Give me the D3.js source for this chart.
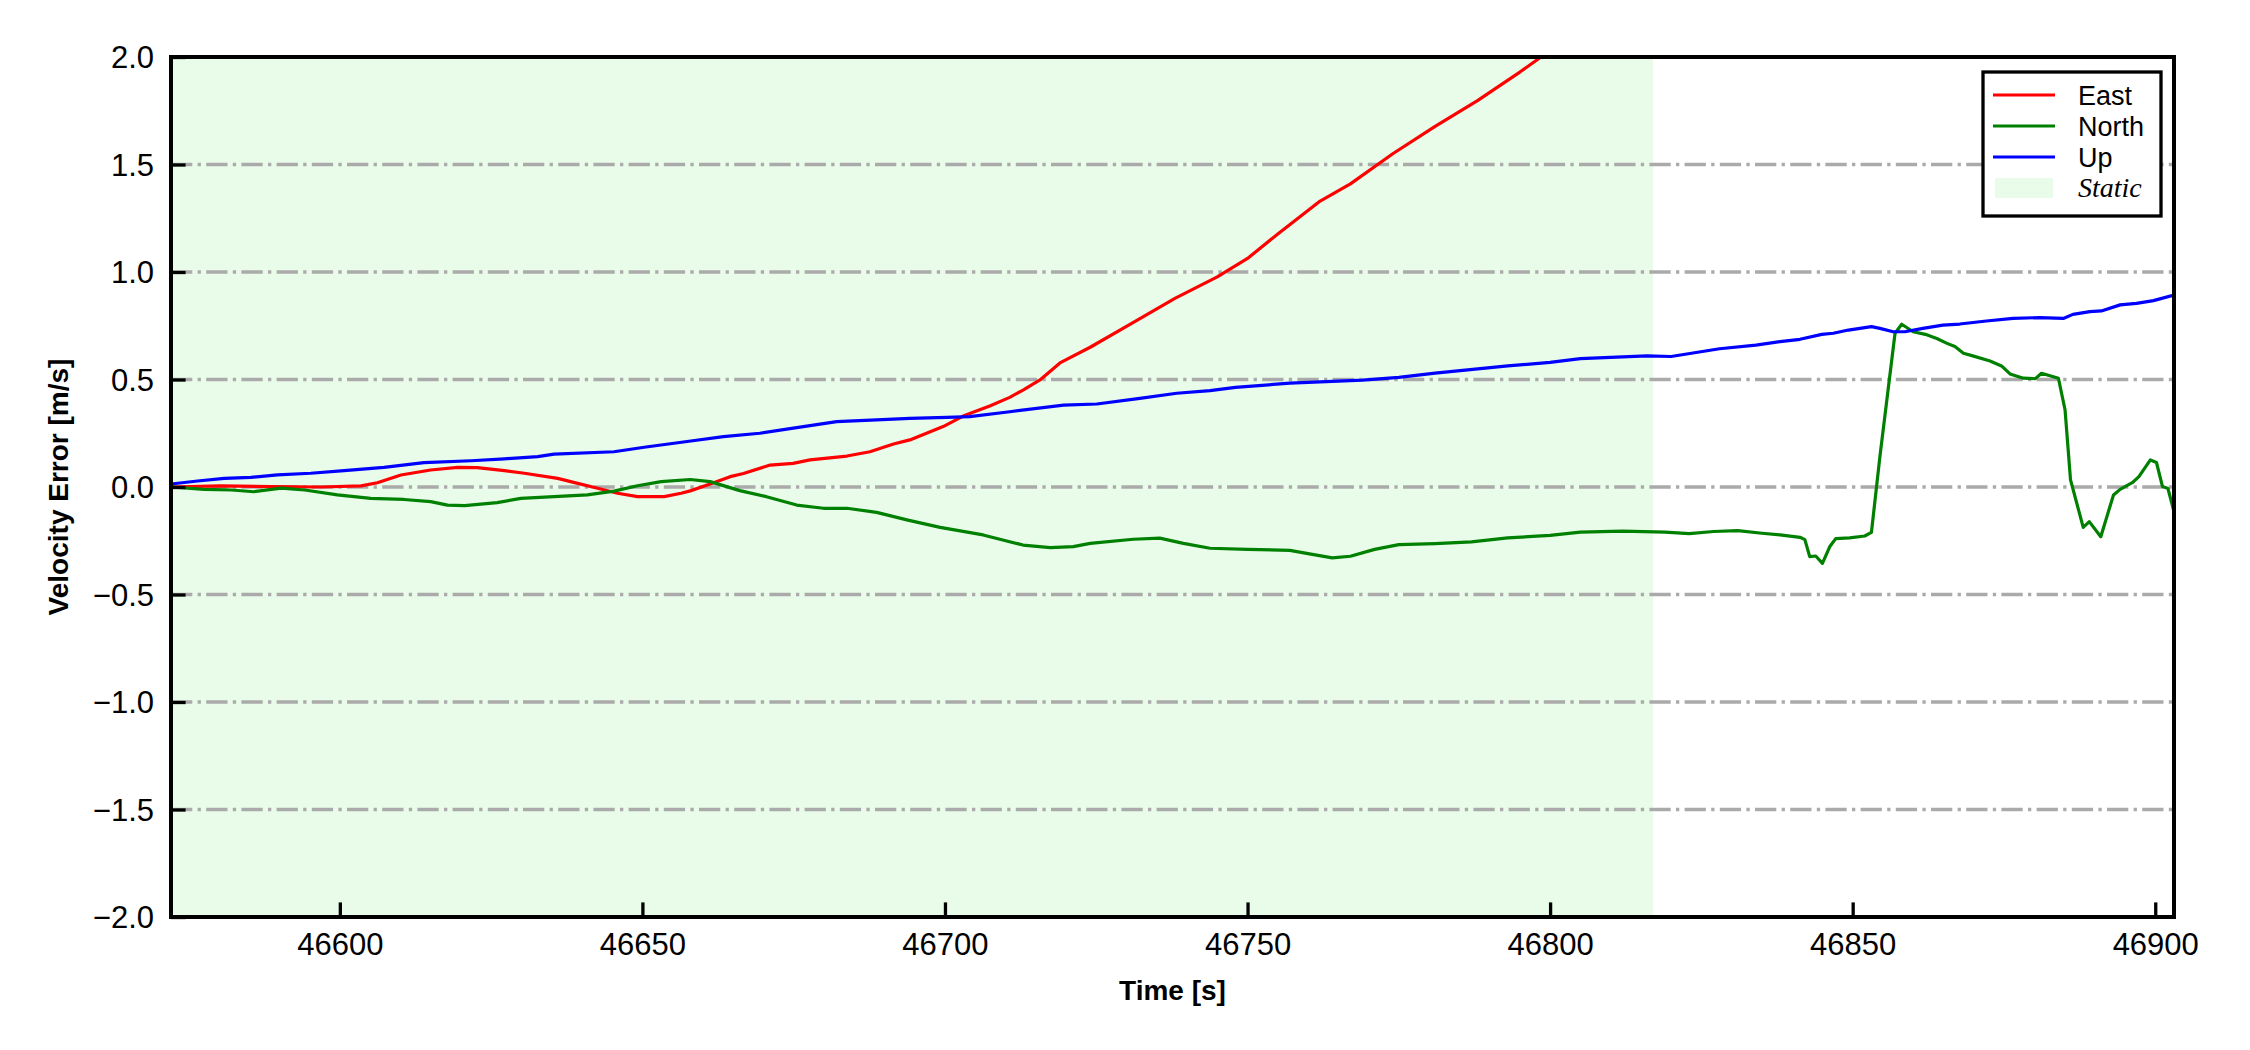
<!DOCTYPE html>
<html>
<head>
<meta charset="utf-8">
<script src="https://cdn.jsdelivr.net/npm/d3@7"></script>
<style>
html,body{margin:0;padding:0;background:#fff;}
svg{display:block;}
</style>
</head>
<body>
<svg id="chart" width="2250" height="1050"></svg>
<script>
// ---------- data ----------
const xDomain = [46572.1, 46903.1];
const yDomain = [-2.0, 2.0];
const xTicks = [46600, 46650, 46700, 46750, 46800, 46850, 46900];
const yTicks = [-2.0, -1.5, -1.0, -0.5, 0.0, 0.5, 1.0, 1.5, 2.0];
const gridValues = [-1.5, -1.0, -0.5, 0.0, 0.5, 1.0, 1.5];
const staticRange = [46572.1, 46817.0];
const seriesNames = ["East", "North", "Up"];
const staticLabel = "Static";

const eastT = [46572.1,46580.3,46588.6,46596.9,46603.5,46606.2,46610.1,46615.0,46619.5,46622.7,46627.2,46630.5,46636.0,46639.3,46642.6,46645.9,46649.2,46653.6,46656.4,46657.9,46661.2,46664.5,46666.7,46671.1,46674.9,46677.7,46683.8,46687.6,46691.5,46694.2,46699.7,46703.0,46707.4,46710.7,46712.9,46715.7,46719.0,46724.0,46731.0,46738.0,46745.0,46750.0,46755.0,46762.0,46767.0,46774.0,46781.0,46788.0,46795.0,46798.5,46805.0,46815.0];
const eastV = [0.000,0.005,0.002,0.000,0.005,0.020,0.056,0.079,0.091,0.090,0.076,0.064,0.040,0.017,-0.006,-0.029,-0.045,-0.045,-0.029,-0.018,0.014,0.048,0.063,0.102,0.110,0.126,0.144,0.164,0.200,0.219,0.281,0.330,0.377,0.417,0.451,0.498,0.577,0.650,0.763,0.877,0.977,1.063,1.177,1.330,1.410,1.550,1.677,1.797,1.930,2.000,2.120,2.300];

const northT = [46572.1,46577.6,46582.1,46585.8,46590.3,46594.2,46599.6,46605.1,46610.6,46615.0,46617.8,46620.6,46626.0,46629.9,46635.4,46640.9,46645.3,46649.2,46653.1,46657.9,46661.2,46666.1,46670.5,46675.5,46679.9,46683.8,46688.7,46693.7,46699.2,46706.3,46712.9,46717.4,46721.2,46724.0,46731.1,46735.5,46739.4,46743.8,46750.0,46757.0,46760.0,46764.0,46767.0,46771.0,46775.0,46781.0,46787.0,46793.0,46800.0,46805.0,46812.0,46819.0,46823.0,46827.0,46831.0,46835.0,46838.0,46841.3,46842.1,46842.9,46843.9,46845.0,46846.2,46847.2,46849.5,46852.0,46853.1,46854.5,46857.0,46858.1,46860.0,46862.0,46863.9,46865.6,46866.9,46868.3,46869.7,46872.7,46874.6,46876.0,46878.2,46880.2,46881.2,46884.0,46885.1,46886.0,46888.1,46889.1,46891.0,46893.1,46894.2,46896.2,46897.3,46899.2,46900.2,46901.2,46902.1,46903.1];
const northV = [0.000,-0.011,-0.014,-0.022,-0.005,-0.014,-0.037,-0.053,-0.058,-0.068,-0.084,-0.087,-0.073,-0.053,-0.045,-0.037,-0.019,0.006,0.025,0.035,0.025,-0.017,-0.045,-0.084,-0.099,-0.099,-0.118,-0.153,-0.188,-0.223,-0.270,-0.282,-0.277,-0.262,-0.243,-0.238,-0.262,-0.285,-0.290,-0.295,-0.310,-0.330,-0.322,-0.290,-0.268,-0.263,-0.255,-0.237,-0.225,-0.210,-0.205,-0.210,-0.217,-0.207,-0.203,-0.215,-0.223,-0.234,-0.245,-0.324,-0.321,-0.355,-0.278,-0.240,-0.237,-0.228,-0.211,0.141,0.715,0.757,0.722,0.710,0.691,0.668,0.653,0.622,0.611,0.586,0.563,0.526,0.506,0.504,0.529,0.506,0.358,0.033,-0.188,-0.161,-0.231,-0.037,-0.011,0.020,0.048,0.126,0.114,0.002,-0.007,-0.115];

const upT = [46572.1,46576.5,46580.9,46585.3,46589.7,46595.2,46600.7,46607.3,46613.9,46621.7,46627.2,46632.7,46635.4,46645.3,46650.3,46658.0,46663.4,46669.4,46675.5,46682.1,46688.7,46694.2,46700.3,46704.1,46710.7,46719.6,46725.1,46732.2,46738.3,46743.8,46748.0,46757.0,46769.0,46775.0,46781.0,46793.0,46800.0,46805.0,46816.0,46820.0,46828.0,46834.0,46838.0,46841.3,46844.9,46846.8,46849.3,46853.1,46854.5,46856.7,46858.6,46861.6,46864.9,46867.7,46872.1,46876.5,46880.9,46884.8,46886.4,46889.2,46891.1,46894.2,46896.9,46899.7,46903.1];
const upV = [0.014,0.028,0.040,0.045,0.056,0.064,0.076,0.091,0.113,0.122,0.131,0.141,0.153,0.164,0.185,0.214,0.234,0.250,0.276,0.304,0.312,0.319,0.324,0.327,0.350,0.381,0.386,0.412,0.436,0.448,0.463,0.483,0.497,0.510,0.530,0.563,0.580,0.597,0.610,0.607,0.643,0.660,0.676,0.687,0.710,0.715,0.730,0.746,0.738,0.722,0.722,0.738,0.753,0.758,0.772,0.784,0.788,0.784,0.803,0.816,0.819,0.847,0.854,0.867,0.893];

// ---------- layout ----------
const svg = d3.select("#chart");
const L = 171, R = 2174, T = 57, B = 917;
const x = d3.scaleLinear().domain(xDomain).range([L, R]);
const y = d3.scaleLinear().domain(yDomain).range([B, T]);
const colors = {East: "#ff0000", North: "#008000", Up: "#0000ff"};
const staticFill = "#e9fce9";
const sans = "'Liberation Sans', Arial, sans-serif";

svg.append("defs").append("clipPath").attr("id", "clip")
  .append("rect").attr("x", L).attr("y", T).attr("width", R - L).attr("height", B - T);

// static region
svg.append("rect")
  .attr("x", x(staticRange[0])).attr("y", T)
  .attr("width", x(staticRange[1]) - x(staticRange[0])).attr("height", B - T)
  .attr("fill", staticFill);

// grid
svg.append("g").selectAll("line").data(gridValues).join("line")
  .attr("x1", L).attr("x2", R)
  .attr("y1", d => y(d)).attr("y2", d => y(d))
  .attr("stroke", "#aaaaaa").attr("stroke-width", 3.3)
  .attr("stroke-dasharray", "21.3,5.3,3.3,5.3");

// lines
const line = d3.line().x(d => x(d[0])).y(d => y(d[1]));
const series = [
  {name: "East", t: eastT, v: eastV},
  {name: "North", t: northT, v: northV},
  {name: "Up", t: upT, v: upV}
];
const lg = svg.append("g").attr("clip-path", "url(#clip)");
series.forEach(s => {
  lg.append("path")
    .datum(s.t.map((t, i) => [t, s.v[i]]))
    .attr("d", line)
    .attr("fill", "none")
    .attr("stroke", colors[s.name])
    .attr("stroke-width", 3.2)
    .attr("stroke-linejoin", "round");
});

// axes (ticks inward)
const fmtY = v => d3.format(".1f")(v).replace("-", "\u2212");
const xAxis = d3.axisBottom(x).tickValues(xTicks).tickFormat(d3.format("d"))
  .tickSize(-14.6).tickPadding(16);
const yAxis = d3.axisLeft(y).tickValues(yTicks).tickFormat(fmtY)
  .tickSize(-14.6).tickPadding(17);

const gx = svg.append("g").attr("transform", `translate(0,${B})`).call(xAxis);
const gy = svg.append("g").attr("transform", `translate(${L},0)`).call(yAxis);
[gx, gy].forEach(g => {
  g.select(".domain").remove();
  g.selectAll(".tick line").attr("stroke", "#000").attr("stroke-width", 3.3);
  g.selectAll(".tick text").attr("fill", "#000")
    .attr("font-family", sans).attr("font-size", 31);
});
gx.selectAll(".tick text").attr("dy", "0.71em");
gy.selectAll(".tick text").attr("dy", "0.35em");

// frame
svg.append("rect").attr("x", L).attr("y", T).attr("width", R - L).attr("height", B - T)
  .attr("fill", "none").attr("stroke", "#000").attr("stroke-width", 4);

// axis labels
svg.append("text").attr("x", (L + R) / 2).attr("y", 1000)
  .attr("text-anchor", "middle").attr("font-family", sans)
  .attr("font-weight", "bold").attr("font-size", 28).text("Time [s]");
svg.append("text")
  .attr("transform", `translate(68,${(T + B) / 2}) rotate(-90)`)
  .attr("text-anchor", "middle").attr("font-family", sans)
  .attr("font-weight", "bold").attr("font-size", 28).text("Velocity Error [m/s]");

// legend
const leg = svg.append("g");
leg.append("rect").attr("x", 1983).attr("y", 72).attr("width", 178).attr("height", 144)
  .attr("fill", "#fff").attr("stroke", "#000").attr("stroke-width", 3.3);
const rowY = [95, 126, 157];
seriesNames.forEach((n, i) => {
  leg.append("line").attr("x1", 1993).attr("x2", 2055)
    .attr("y1", rowY[i]).attr("y2", rowY[i])
    .attr("stroke", colors[n]).attr("stroke-width", 3.2);
  leg.append("text").attr("x", 2078).attr("y", rowY[i] + 9.5)
    .attr("font-family", sans).attr("font-size", 27).text(n);
});
leg.append("rect").attr("x", 1995).attr("y", 178).attr("width", 58).attr("height", 20)
  .attr("fill", staticFill);
leg.append("text").attr("x", 2078).attr("y", 197)
  .attr("font-family", "'Liberation Serif', 'Times New Roman', serif")
  .attr("font-style", "italic").attr("font-size", 28).text(staticLabel);
</script>
</body>
</html>
